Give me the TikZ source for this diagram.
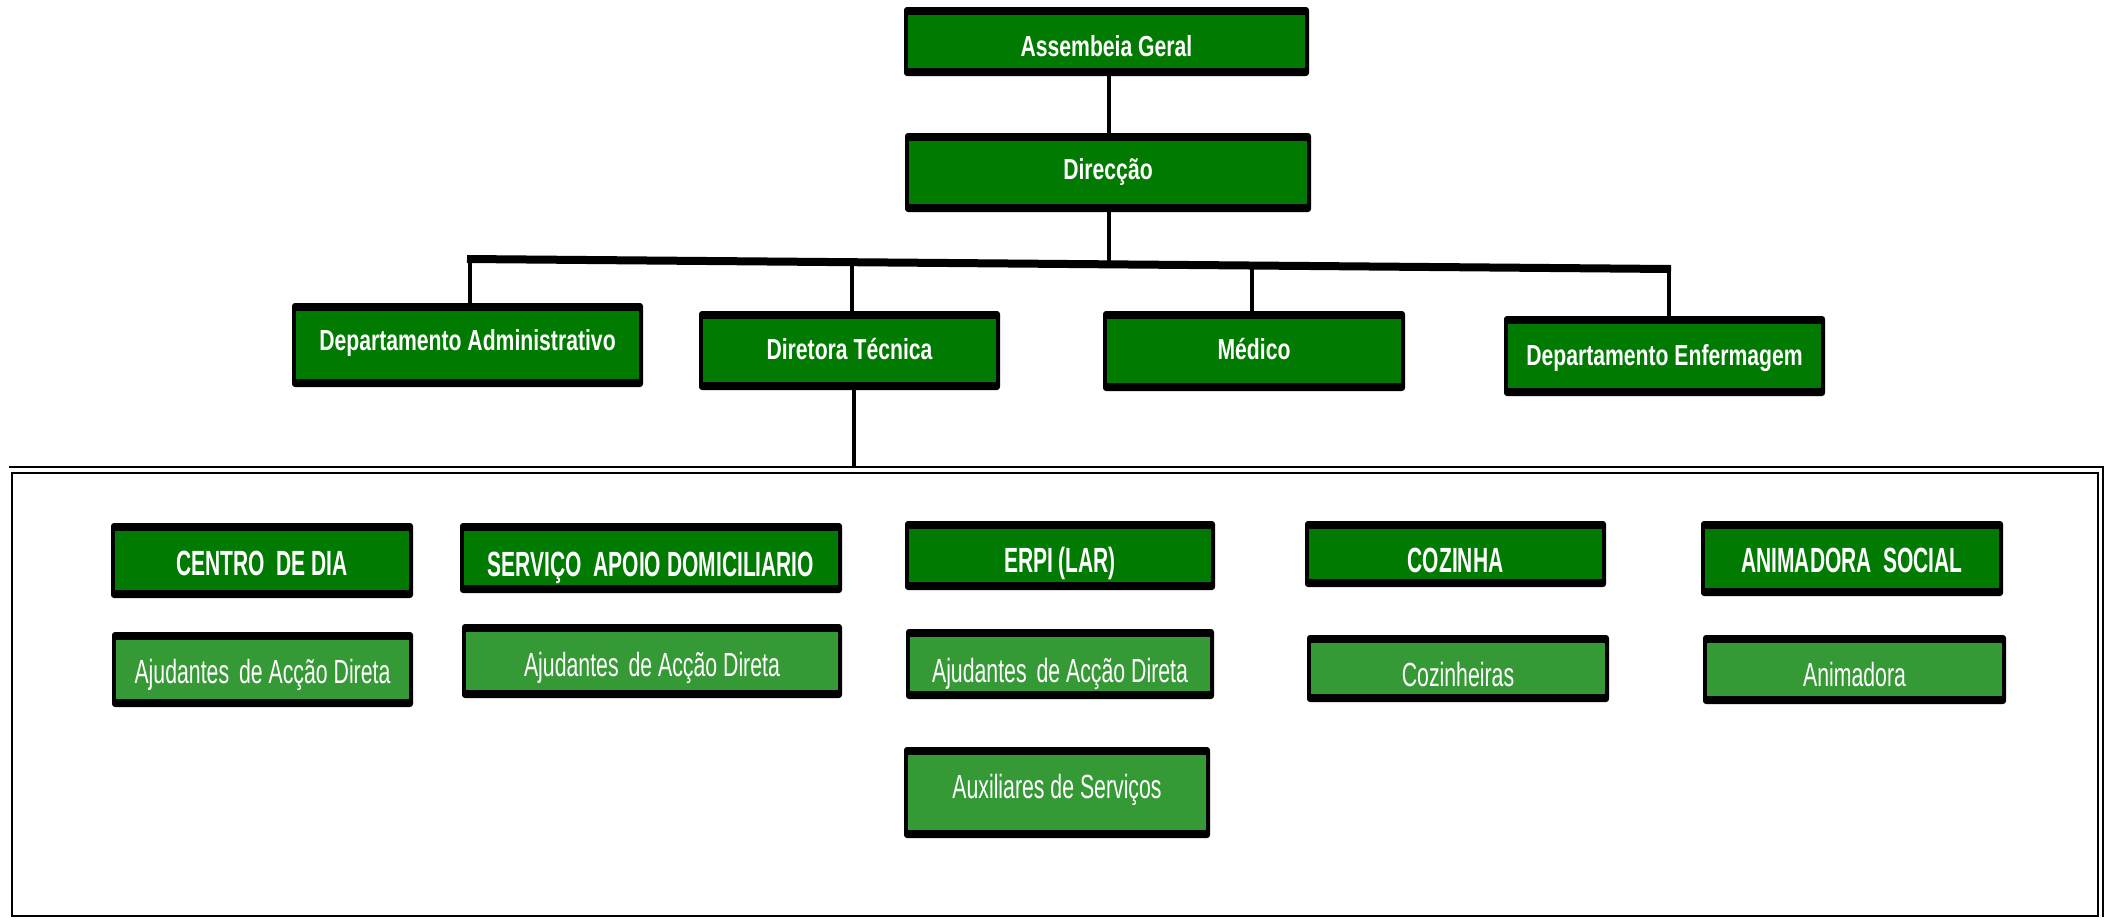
\documentclass[tikz,border=0pt]{standalone}
\usepackage{fontspec}
\setmainfont{Liberation Sans}
\newfontfamily\fTop[FakeStretch=0.73]{Liberation Sans}
\newfontfamily\fHdr[FakeStretch=0.6]{Liberation Sans}
\newfontfamily\fStaff[FakeStretch=0.635]{Liberation Sans}
\definecolor{hdrgreen}{HTML}{007A00}
\definecolor{staffgreen}{HTML}{359A35}
\tikzset{
  boxbase/.style={fill=black, rounded corners=3pt, inner sep=0pt, text=white, align=center},
  greenhdr/.style={boxbase, path picture={\fill[hdrgreen, sharp corners] ([shift={(4pt,8pt)}]path picture bounding box.south west) rectangle ([shift={(-4pt,-8pt)}]path picture bounding box.north east);}},
  greenstaff/.style={boxbase, path picture={\fill[staffgreen, sharp corners] ([shift={(4pt,8pt)}]path picture bounding box.south west) rectangle ([shift={(-4pt,-8pt)}]path picture bounding box.north east);}},
  toplvl/.style={greenhdr, font=\fTop\bfseries\fontsize{29}{34}\selectfont, text height=21pt, text depth=0pt},
  unitlvl/.style={greenhdr, font=\fHdr\bfseries\fontsize{35}{40}\selectfont, text height=25pt, text depth=0pt},
  stafflvl/.style={greenstaff, font=\fStaff\fontsize{33.5}{38}\selectfont, text height=24pt, text depth=0pt},
  mainlink/.style={line width=4.5pt},
  droplink/.style={line width=3.5pt},
  busline/.style={line width=8pt},
  framestroke/.style={line width=2.5pt},
}
\begin{document}
\begin{tikzpicture}[x=1pt,y=-1pt]
\useasboundingbox (0,0) rectangle (2107,919);
% frame
\draw[framestroke] (9,467) -- (2103,467) -- (2103,917);
\draw[framestroke] (12,473) rectangle (2098,916);
% top levels
\node[toplvl, minimum width=405pt, minimum height=69pt, text height=29pt] (ag) at (1106.5,41.5) {Assembeia Geral};
\node[toplvl, minimum width=406pt, minimum height=79pt, text depth=8pt] (dir) at (1108,172.5) {Direcção};
\node[toplvl, minimum width=351pt, minimum height=84pt, text depth=11pt] (adm) at (467.5,345) {Departamento Administrativo};
\node[toplvl, minimum width=301pt, minimum height=79pt, text depth=3pt] (tec) at (849.5,350.5) {Diretora Técnica};
\node[toplvl, minimum width=302pt, minimum height=80pt, text depth=4pt] (med) at (1254,351) {Médico};
\node[toplvl, minimum width=321pt, minimum height=80pt, text depth=3pt] (enf) at (1664.5,356) {Departamento Enfermagem};
% units
\node[unitlvl, minimum width=302pt, minimum height=75pt, text height=29pt] (cdd) at (262,560.5) {CENTRO\ \ DE DIA};
\node[unitlvl, minimum width=382pt, minimum height=70pt, text height=36pt] (sad) at (651,558) {SERVIÇO\ \ APOIO DOMICILIARIO};
\node[unitlvl, minimum width=310pt, minimum height=69pt, text height=33pt] (erpi) at (1060,555.5) {ERPI (LAR)};
\node[unitlvl, minimum width=301pt, minimum height=66pt, text height=36pt] (coz) at (1455.5,554) {COZINHA};
\node[unitlvl, minimum width=302pt, minimum height=75pt, text height=27pt] (ani) at (1852,558.5) {ANIMADORA\ \ SOCIAL};
% staff
\node[stafflvl, minimum width=301pt, minimum height=75pt, text height=27pt] (aj1) at (262.5,669.5) {Ajudantes\hspace{0.12em} de Acção Direta};
\node[stafflvl, minimum width=380pt, minimum height=74pt, text height=31pt] (aj2) at (652,661) {Ajudantes\hspace{0.12em} de Acção Direta};
\node[stafflvl, minimum width=308pt, minimum height=70pt, text height=36pt] (aj3) at (1060,664) {Ajudantes\hspace{0.12em} de Acção Direta};
\node[stafflvl, minimum width=302pt, minimum height=67pt, text height=36pt] (cozs) at (1458,668.5) {Cozinheiras};
\node[stafflvl, minimum width=303pt, minimum height=69pt, text height=34pt] (anim) at (1854.5,669.5) {Animadora};
\node[stafflvl, minimum width=306pt, minimum height=91pt, text depth=13pt] (aux) at (1057,792.5) {Auxiliares de Serviços};
% connectors
\coordinate (bL) at (467,259);
\coordinate (bR) at (1671,269);
\coordinate (bD) at (1109,264.3);
\coordinate (dA) at (470,259);
\coordinate (dT) at (852,262.2);
\coordinate (dM) at (1252,265.5);
\coordinate (dE) at (1669,269);
\coordinate (fT) at (854,467);
\draw[mainlink] (ag.south -| bD) -- (dir.north -| bD);
\draw[mainlink] (dir.south -| bD) -- (bD);
\draw[busline] (bL) -- (bR);
\draw[droplink] (dA) -- (dA |- adm.north);
\draw[droplink] (dT) -- (dT |- tec.north);
\draw[droplink] (dM) -- (dM |- med.north);
\draw[droplink] (dE) -- (dE |- enf.north);
\draw[droplink] (tec.south -| fT) -- (fT);
\end{tikzpicture}
\end{document}
